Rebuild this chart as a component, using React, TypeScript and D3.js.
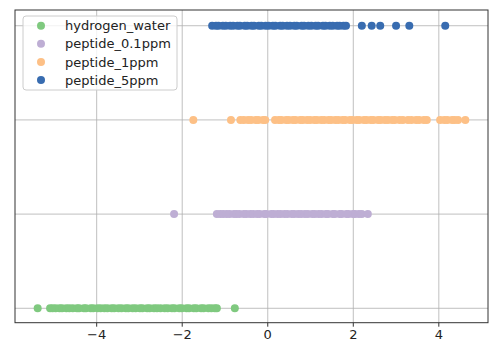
import { useEffect, useRef } from 'react';
import * as d3 from 'd3';

const categories = ['hydrogen_water', 'peptide_0.1ppm', 'peptide_1ppm', 'peptide_5ppm'];
const colors = ['#7fc97f', '#beaed4', '#fdc086', '#386cb0'];

const hydrogenWater = [
    -5.38, -5.09, -5.03, -4.96, -4.87, -4.81, -4.71, -4.64, -4.56, -4.46, -4.41, -4.30, -4.25,
    -4.14, -4.08, -3.98, -3.91, -3.82, -3.75, -3.65, -3.59, -3.49, -3.42, -3.32, -3.26, -3.16,
    -3.09, -2.99, -2.93, -2.82, -2.76, -2.66, -2.59, -2.51, -2.41, -2.34, -2.24, -2.18, -2.07,
    -2.01, -1.90, -1.84, -1.73, -1.67, -1.56, -1.50, -1.39, -1.32, -1.24, -1.19, -0.77,
];
const peptide01 = [
    -2.19, -1.19, -1.11, -1.04, -0.96, -0.89, -0.79, -0.73, -0.66, -0.56, -0.50, -0.41, -0.34,
    -0.25, -0.19, -0.08, -0.03, 0.08, 0.14, 0.23, 0.30, 0.39, 0.46, 0.56, 0.62, 0.71, 0.78,
    0.87, 0.94, 1.04, 1.10, 1.19, 1.26, 1.36, 1.41, 1.52, 1.57, 1.68, 1.73, 1.84, 1.89, 1.99,
    2.04, 2.13, 2.20, 2.34,
];
const peptide1 = [
    -1.74, -0.86, -0.64, -0.56, -0.46, -0.39, -0.28, -0.22, -0.11, -0.06, 0.17, 0.26, 0.32,
    0.43, 0.49, 0.59, 0.65, 0.76, 0.82, 0.92, 0.99, 1.09, 1.15, 1.25, 1.32, 1.42, 1.48, 1.58,
    1.65, 1.75, 1.81, 1.92, 1.98, 2.08, 2.14, 2.25, 2.31, 2.41, 2.47, 2.58, 2.64, 2.74, 2.81,
    2.91, 2.97, 3.08, 3.16, 3.28, 3.36, 3.47, 3.54, 3.65, 3.72, 4.03, 4.13, 4.20, 4.31, 4.37,
    4.45, 4.62,
];
const peptide5 = [
    -1.30, -1.21, -1.15, -1.05, -0.98, -0.88, -0.81, -0.71, -0.65, -0.54, -0.48, -0.38, -0.32,
    -0.21, -0.15, -0.05, 0.02, 0.12, 0.18, 0.29, 0.35, 0.45, 0.52, 0.62, 0.68, 0.79, 0.85,
    0.95, 1.02, 1.12, 1.18, 1.29, 1.35, 1.45, 1.52, 1.62, 1.68, 1.77, 1.83, 2.20, 2.43, 2.63,
    3.00, 3.31, 4.15,
];
const seriesValues = [hydrogenWater, peptide01, peptide1, peptide5];
const xTicks = [-4, -2, 0, 2, 4];
const yTicks = [0, 1, 2, 3];

export default function App() {
    const ref = useRef<SVGSVGElement>(null);

    useEffect(() => {
        if (!ref.current) return;
        const svg = d3.select(ref.current);
        svg.selectAll('*').remove();

        const W = 489, H = 342;
        const left = 15, right = 488, top = 10, bottom = 322.7;
        const font = 'DejaVu Sans, sans-serif';

        const x = d3.scaleLinear().domain([-5.91, 5.15]).range([left, right]);
        const y = d3.scaleLinear().domain([-0.153, 3.167]).range([bottom, top]);

        svg.attr('width', W).attr('height', H);
        svg.append('rect').attr('width', W).attr('height', H).attr('fill', '#fff');

        // grid
        const grid = svg.append('g').attr('stroke', '#b0b0b0').attr('stroke-width', 0.8);
        xTicks.forEach(t => {
            grid.append('line').attr('x1', x(t)).attr('x2', x(t)).attr('y1', top).attr('y2', bottom);
        });
        yTicks.forEach(t => {
            grid.append('line').attr('x1', left).attr('x2', right).attr('y1', y(t)).attr('y2', y(t));
        });

        // points, one row per category
        seriesValues.forEach((vals, i) => {
            svg.append('g')
                .selectAll('circle')
                .data(vals)
                .enter()
                .append('circle')
                .attr('cx', d => x(d))
                .attr('cy', y(i))
                .attr('r', 4)
                .attr('fill', colors[i]);
        });

        // frame
        svg.append('rect')
            .attr('x', left).attr('y', top)
            .attr('width', right - left).attr('height', bottom - top)
            .attr('fill', 'none').attr('stroke', '#333').attr('stroke-width', 1);

        // x ticks
        xTicks.forEach(t => {
            svg.append('line')
                .attr('x1', x(t)).attr('x2', x(t))
                .attr('y1', bottom).attr('y2', bottom + 4)
                .attr('stroke', '#333');
            svg.append('text')
                .attr('x', x(t)).attr('y', bottom + 16.5)
                .attr('text-anchor', 'middle')
                .style('font-family', font).style('font-size', '13px')
                .attr('fill', '#222')
                .text(t < 0 ? `\u2212${Math.abs(t)}` : `${t}`);
        });

        // legend
        const lg = svg.append('g');
        lg.append('rect')
            .attr('x', 23).attr('y', 16).attr('width', 154).attr('height', 74).attr('rx', 3)
            .attr('fill', 'rgba(255,255,255,0.8)').attr('stroke', '#ccc');
        categories.forEach((c, i) => {
            const cy = 25.7 + i * 18.1;
            lg.append('circle').attr('cx', 41).attr('cy', cy).attr('r', 4).attr('fill', colors[i]);
            lg.append('text')
                .attr('x', 65).attr('y', cy + 4.6)
                .style('font-family', font).style('font-size', '13px')
                .attr('fill', '#222')
                .text(c);
        });
    }, []);

    return <svg ref={ref} style={{ position: 'absolute', left: 0, top: 0, display: 'block' }} />;
}
